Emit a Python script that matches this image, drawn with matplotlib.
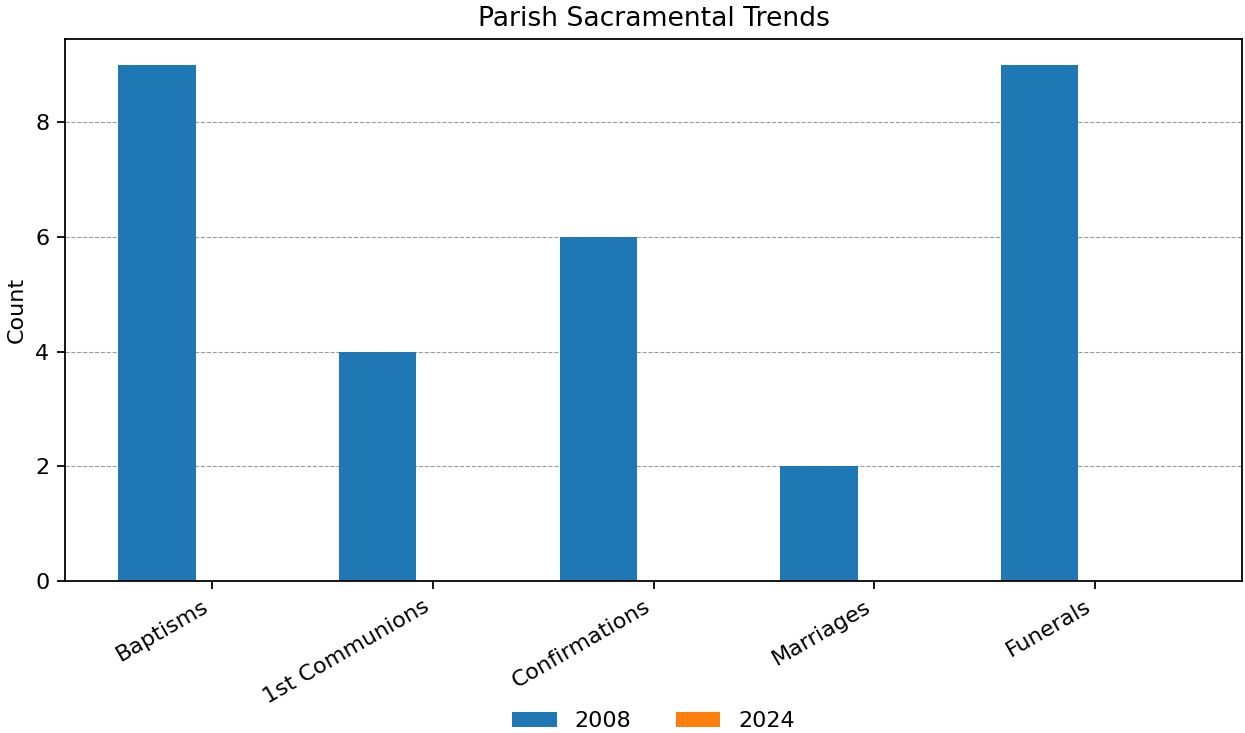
import numpy as np
import matplotlib
matplotlib.use("Agg")
import matplotlib.pyplot as plt

categories = ["Baptisms", "1st Communions", "Confirmations", "Marriages", "Funerals"]
values_2008 = [9, 4, 6, 2, 9]
values_2024 = [0, 0, 0, 0, 0]
series_labels = ["2008", "2024"]

x = np.arange(len(categories))
width = 0.35

fig = plt.figure(figsize=(1245 / 160, 733 / 160), dpi=160)
ax = fig.add_axes([0.0522, 0.2074, 0.9454, 0.7394])
ax.bar(x - 0.25, values_2008, width, label=series_labels[0], color="#1f77b4")
ax.bar(x + 0.25, values_2024, width, label=series_labels[1], color="#ff7f0e")
ax.set_xticks(x)
ax.set_xticklabels(categories, rotation=30, ha="right")
ax.set_ylabel("Count")
ax.set_title("Parish Sacramental Trends")
ax.set_axisbelow(True)
ax.yaxis.grid(True, linestyle="--", color="gray", linewidth=0.5, alpha=0.8)
fig.legend(loc="lower center", bbox_to_anchor=(0.525, -0.025), ncol=2, frameon=False)
fig.savefig("out.png", dpi=160)
